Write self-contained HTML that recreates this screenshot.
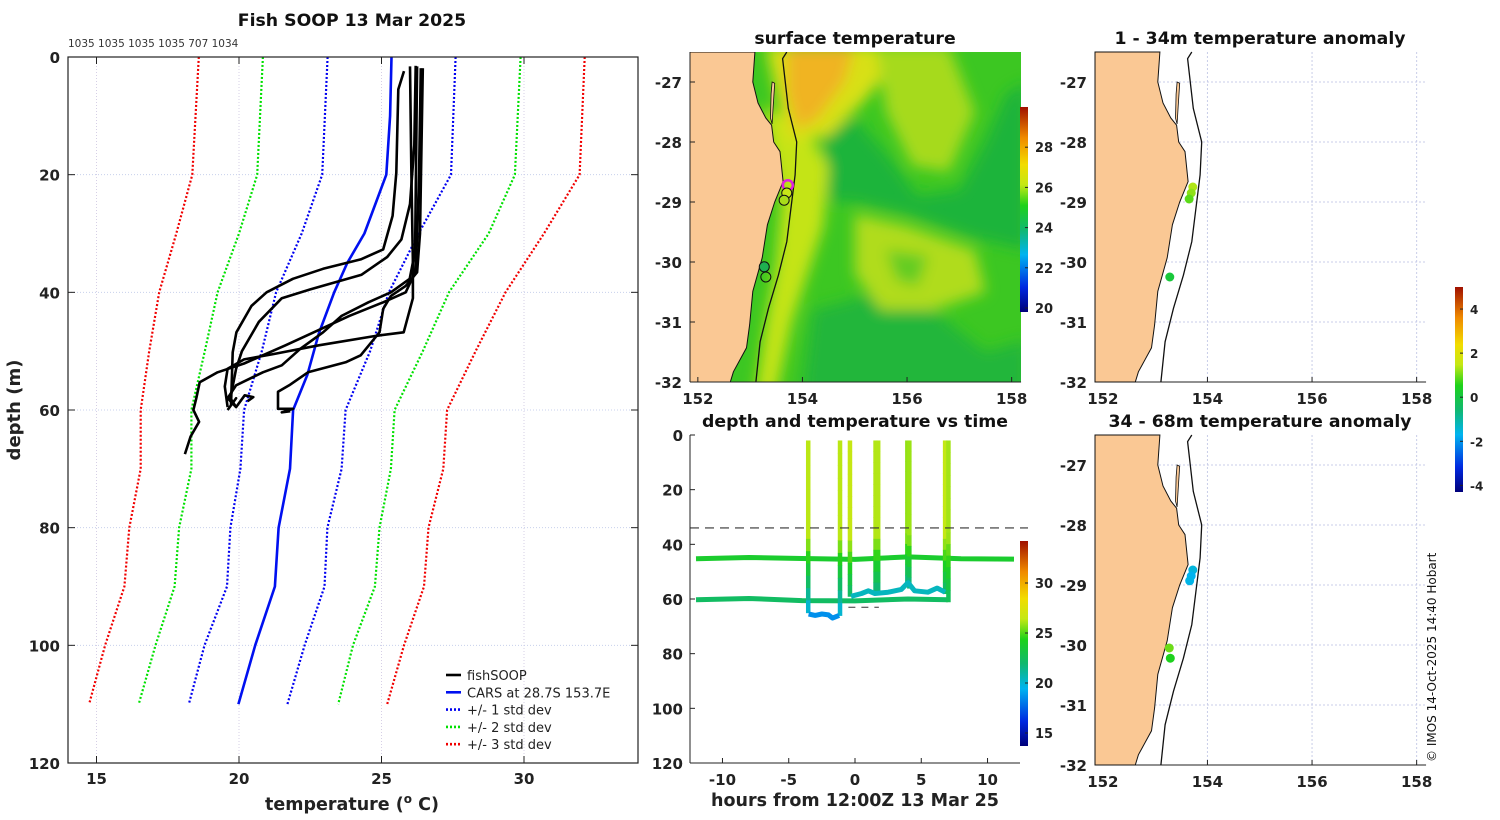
<!DOCTYPE html>
<html><head><meta charset="utf-8"><title>Fish SOOP 13 Mar 2025</title>
<style>
html,body{margin:0;padding:0;background:#fff;width:1500px;height:820px;overflow:hidden}
svg{display:block;font-family:"DejaVu Sans","Liberation Sans",sans-serif}
.tk{font-size:15px;font-weight:bold;fill:#222}
.tt{font-size:17.3px;font-weight:bold;fill:#111}
.at{font-size:17.5px;font-weight:bold;fill:#222}
.sm{font-size:11px;fill:#333}
</style></head><body>
<svg id="fig" width="1500" height="820" viewBox="0 0 1500 820" xmlns="http://www.w3.org/2000/svg">
<defs>
<filter id="blur4" x="-10%" y="-10%" width="120%" height="120%"><feGaussianBlur stdDeviation="7"/></filter>
<clipPath id="clipSst"><rect x="690" y="52" width="331" height="330"/></clipPath>
<linearGradient id="jet" x1="0" y1="1" x2="0" y2="0">
<stop offset="0" stop-color="#00007a"/><stop offset="0.12" stop-color="#0028e0"/><stop offset="0.28" stop-color="#00b4f0"/><stop offset="0.4" stop-color="#10b870"/><stop offset="0.52" stop-color="#1ed21a"/><stop offset="0.62" stop-color="#c4e814"/><stop offset="0.72" stop-color="#f2dc00"/><stop offset="0.85" stop-color="#f08a00"/><stop offset="1" stop-color="#a01000"/>
</linearGradient>
</defs>
</svg>
<script>
// ---------- data ----------
const carsDepth=[0,10,20,30,35,40,47,54,60,70,80,90,100,110];
const carsTemp=[25.35,25.3,25.17,24.4,23.8,23.34,22.8,22.4,21.9,21.79,21.39,21.26,20.57,19.98];
const sdDepth=[0,20,30,40,50,60,70,80,90,100,110];
const sd1Lo=[23.11,22.92,22.2,21.3,20.8,20.18,20.05,19.7,19.58,18.79,18.24];
const sd1Hi=[27.6,27.44,26.3,25.26,24.6,23.74,23.6,23.1,23.0,22.3,21.7];
const sd2Lo=[20.84,20.64,20.0,19.25,18.8,18.33,18.33,17.9,17.74,17.07,16.48];
const sd2Hi=[29.88,29.68,28.76,27.37,26.45,25.46,25.33,24.93,24.77,24.0,23.48];
const sd3Lo=[18.59,18.36,17.8,17.2,16.85,16.55,16.55,16.15,15.98,15.3,14.74];
const sd3Hi=[32.13,31.95,30.7,29.35,28.3,27.3,27.17,26.65,26.49,25.79,25.2];
const fishT1=[26.38,26.32,26.25,26.18,25.85,25.06,23.87,21.63,20.18,19.25,18.62,18.5,18.4,18.6,18.3,18.1];
const fishD1=[1.9,19.7,31,36.6,40,41.7,44,49,52.1,53.6,55.3,58,60,62,64.5,67.5];
const fishT2=[25.79,25.59,25.52,25.39,25.06,24.27,22.95,21.89,20.97,20.44,19.91,19.78,19.72,19.9,19.6];
const fishD2=[2.4,5.5,19.7,27,32.7,34.4,36,37.7,40,42.3,46.8,50.2,59.2,58,60];
const fishT3=[26.2,26.15,26.0,25.7,25.2,24.3,22.5,21.5,20.7,20.1,19.9,19.7,19.9,20.2,20.5,20.3];
const fishD3=[1.5,15,25,31,34,37,39.5,41,45,50,53,58,59.5,57.5,57.8,58.5];
const fishT4=[26.0,26.05,26.1,26.1,25.78,24.8,22.8,21.2,20.18,19.6,19.5,19.6];
const fishD4=[1.6,20,35,41,46.8,47.4,49,50.5,51.4,53,56,59.5];
const fishT5=[26.25,26.18,25.99,25.33,24.54,23.6,22.95,22.15,21.5,20.84,19.9,19.6,19.9];
const fishD5=[1.6,33,37.7,40,41.7,44,46.8,49.6,52.4,53.6,55.8,58,59.5];
const fishT6=[26.45,26.35,26.25,25.85,25.33,25.06,24.93,24.27,23.74,22.42,21.76,21.37,21.37,21.9,21.5,21.8];
const fishD6=[1.9,30,36.6,38.9,40.6,42.8,46.8,50.7,51.9,53.6,55.8,56.9,59.8,59.8,60.4,60.2];
const tempTicks=[15,20,25,30];
const depthTicks=[0,20,40,60,80,100,120];
const countsLabel="1035 1035 1035 1035 707 1034";
// depth-time panel
const hourTicks=[-10,-5,0,5,10];
const castHours=[-3.53,-1.13,-0.38,1.55,1.75,3.95,4.1,6.8,7.05];
const castBottom=[65,66,59,58,58,55,56,58,61];
const castTopTemp=[26.3,26.3,26.5,26.2,26.2,25.8,25.9,26.4,26.0];
const castBotTemp=[19.0,19.0,21.5,21.0,21.0,20.8,20.8,21.5,22.0];
const track45Hours=[-12,-8,-4,0,4,8,12];
const track45Depth=[45.3,44.8,45.2,45.5,44.6,45.3,45.4];
const track60Hours=[-12,-8,-4,0,4,7];
const track60Depth=[60.3,59.8,60.6,60.7,60.0,60.3];
const blueHours=[-3.5,-3.0,-2.5,-2.0,-1.7,-1.2];
const blueDepth=[65.5,66,65.5,65.8,67,66];
const cyanHours=[-0.3,0.5,1.0,1.5,2.5,3.5,4.0,4.5,5.5,6.2,6.8];
const cyanDepth=[59,58,57,58,57.5,56.5,54,57,57.5,56,57.5];
const mixedLayerDepth=34;
const ctTicks=[15,20,25,30];
// maps
const lonTicks=[152,154,156,158];
const latTicks=[-27,-28,-29,-30,-31,-32];
const coastLon=[151.85,153.09,153.05,153.15,153.3,153.41,153.45,153.57,153.63,153.47,153.33,153.23,153.05,152.99,152.93,152.68,152.62,151.85];
const coastLat=[-26.5,-26.5,-27.0,-27.35,-27.6,-27.72,-28.0,-28.16,-28.66,-29.0,-29.38,-29.93,-30.49,-31.05,-31.43,-31.83,-32,-32];
const islandLon=[153.42,153.47,153.44,153.42,153.39,153.4];
const islandLat=[-27.0,-27.02,-27.4,-27.7,-27.6,-27.2];
const shelfLon=[153.70,153.62,153.73,153.89,153.86,153.78,153.70,153.54,153.35,153.19,153.11];
const shelfLat=[-26.5,-26.61,-27.44,-28.0,-28.55,-29.11,-29.66,-30.22,-30.77,-31.33,-32];
const sstTicks=[20,22,24,26,28];
const anomTicks=[-4,-2,0,2,4];
const anomTopLon=[153.72,153.69,153.65,153.28];
const anomTopLat=[-28.75,-28.85,-28.95,-30.25];
const anomTopVal=[1.4,1.2,0.9,0.1];
const anomBotLon=[153.72,153.69,153.66,153.27,153.29];
const anomBotLat=[-28.75,-28.85,-28.93,-30.05,-30.22];
const anomBotVal=[-1.6,-1.8,-1.7,1.0,0.5];

// ---------- helpers ----------
const S="http://www.w3.org/2000/svg";
const svg=document.getElementById('fig');
function mk(tag,attrs,parent){const e=document.createElementNS(S,tag);for(const k in attrs)e.setAttribute(k,attrs[k]);(parent||svg).appendChild(e);return e;}
function txt(x,y,s,cls,anchor,parent){const t=mk('text',{x:x,y:y,'class':cls,'text-anchor':anchor||'middle'},parent);t.textContent=s;return t;}
const stops=[[0,[0,0,122]],[0.12,[0,40,224]],[0.28,[0,180,240]],[0.4,[16,184,112]],[0.52,[30,210,26]],[0.62,[196,232,20]],[0.72,[242,220,0]],[0.85,[240,138,0]],[1,[160,16,0]]];
function cmap(v,lo,hi){let f=Math.max(0,Math.min(1,(v-lo)/(hi-lo)));for(let i=1;i<stops.length;i++){if(f<=stops[i][0]){const a=stops[i-1],b=stops[i];const u=(f-a[0])/(b[0]-a[0]);const c=a[1].map((x,j)=>Math.round(x+(b[1][j]-x)*u));return 'rgb('+c.join(',')+')';}}return 'rgb(160,16,0)';}

// ---------- main profile plot ----------
const X0=68,X1=638,Y0=57,Y1=763;
const xT=t=>X0+(t-14)*(X1-X0)/20;
const yD=d=>Y0+d*(Y1-Y0)/120;
const gMain=mk('g',{});


tempTicks.forEach(t=>{const l=mk('line',{x1:xT(t),x2:xT(t),y1:Y0,y2:Y1,stroke:'#d6cfe6','stroke-width':1,'stroke-dasharray':'1,2'},gMain);});
depthTicks.slice(1,-1).forEach(d=>{const l=mk('line',{x1:X0,x2:X1,y1:yD(d),y2:yD(d),stroke:'#c8d0ec','stroke-width':1,'stroke-dasharray':'1,2'},gMain);});
function poly(ts,ds,color,w,dash,name,parent,xf,yf){const pts=ts.map((t,i)=>xf(t).toFixed(1)+','+yf(ds[i]).toFixed(1)).join(' ');const p=mk('polyline',{points:pts,fill:'none',stroke:color,'stroke-width':w,'stroke-linejoin':'round'},parent);if(dash)p.setAttribute('stroke-dasharray',dash);return p;}
[[sd3Lo,'#f00000','sd3-low-line'],[sd3Hi,'#f00000','sd3-high-line'],[sd2Lo,'#00e000','sd2-low-line'],[sd2Hi,'#00e000','sd2-high-line'],[sd1Lo,'#0000f0','sd1-low-line'],[sd1Hi,'#0000f0','sd1-high-line']].forEach(a=>poly(a[0],sdDepth,a[1],2.2,'2,2',a[2],gMain,xT,yD));
poly(carsTemp,carsDepth,'#0010f0',2.6,null,'cars-line',gMain,xT,yD);
[[fishT1,fishD1],[fishT2,fishD2],[fishT3,fishD3],[fishT4,fishD4],[fishT5,fishD5],[fishT6,fishD6]].forEach((a,i)=>poly(a[0],a[1],'#000',2.6,null,'fishsoop-profile-'+(i+1),gMain,xT,yD));
const frame=mk('rect',{x:X0,y:Y0,width:X1-X0,height:Y1-Y0,fill:'none',stroke:'#222','stroke-width':1.2},gMain);

tempTicks.forEach(t=>{mk('line',{x1:xT(t),x2:xT(t),y1:Y1,y2:Y1-7,stroke:'#222'},gMain);mk('line',{x1:xT(t),x2:xT(t),y1:Y0,y2:Y0+7,stroke:'#222'},gMain);const l=txt(xT(t),784,String(t),'tk','middle',gMain);});
depthTicks.forEach(d=>{mk('line',{x1:X0,x2:X0+7,y1:yD(d),y2:yD(d),stroke:'#222'},gMain);mk('line',{x1:X1,x2:X1-7,y1:yD(d),y2:yD(d),stroke:'#222'},gMain);const l=txt(60,yD(d)+6,String(d),'tk','end',gMain);});
let t=txt(352,26,'Fish SOOP 13 Mar 2025','tt','middle');
t=txt(68,47,countsLabel,'sm','start');t.style.fontSize='10.5px';
t=txt(0,0,'depth (m)','at','middle');t.style.fontSize='18px';t.setAttribute('transform','translate(20,410) rotate(-90)');
t=mk('text',{x:352,y:810,'class':'at','text-anchor':'middle'});t.innerHTML='temperature (<tspan dy="-7" font-size="12">o</tspan><tspan dy="7"> C)</tspan>';
// legend
const legItems=[['fishSOOP','#000',null],['CARS at 28.7S 153.7E','#0010f0',null],['+/- 1 std dev','#0000f0','2,2'],['+/- 2 std dev','#00e000','2,2'],['+/- 3 std dev','#f00000','2,2']];
legItems.forEach((it,i)=>{const g=mk('g',{});const y=675+i*17.3;const l=mk('line',{x1:446,x2:461,y1:y,y2:y,stroke:it[1],'stroke-width':2.6},g);if(it[2])l.setAttribute('stroke-dasharray',it[2]);const tx=txt(467,y+5,it[0],'sm','start',g);tx.style.fontSize='13px';tx.style.fill='#222';});

// ---------- map helpers ----------
function mapAx(x0,y0,lat0){const lonL=151.85,pxDeg=52.3;return {x:lo=>x0+(lo-lonL)*pxDeg,y:la=>y0+(lat0-la)*60};}
function polyPts(lons,lats,m){return lons.map((lo,i)=>m.x(lo).toFixed(1)+','+m.y(lats[i]).toFixed(1)).join(' ');}
function mapFrame(m,g,xlabY,withGrid){
  if(withGrid){lonTicks.forEach(lo=>{const l=mk('line',{x1:m.x(lo),x2:m.x(lo),y1:m.y(-26.5),y2:m.y(-32),stroke:'#c8cde8','stroke-dasharray':'2,2'},g);});
  latTicks.forEach(la=>{const l=mk('line',{x1:m.x(151.85),x2:m.x(158.18),y1:m.y(la),y2:m.y(la),stroke:'#c8cde8','stroke-dasharray':'2,2'},g);});}
  const xl=m.x(151.85),yb=m.y(-32);
  mk('line',{x1:xl,x2:m.x(158.18),y1:yb,y2:yb,stroke:'#222'},g);mk('line',{x1:xl,x2:xl,y1:m.y(-26.5),y2:yb,stroke:'#222'},g);
  lonTicks.forEach(lo=>{mk('line',{x1:m.x(lo),x2:m.x(lo),y1:yb,y2:yb-5,stroke:'#222'},g);const l=txt(m.x(lo),xlabY,String(lo),'tk','middle',g);});
  latTicks.forEach(la=>{mk('line',{x1:xl,x2:xl+5,y1:m.y(la),y2:m.y(la),stroke:'#222'},g);const l=txt(xl-8,m.y(la)+6,String(la),'tk','end',g);});
}
function land(m,g){const p=mk('polygon',{points:polyPts(coastLon,coastLat,m),fill:'#fac894',stroke:'#111','stroke-width':1},g);
  const i=mk('polygon',{points:polyPts(islandLon,islandLat,m),fill:'#fac894',stroke:'#111','stroke-width':0.8},g);}
function shelf(m,g){const s=mk('polyline',{points:polyPts(shelfLon,shelfLat,m),fill:'none',stroke:'#111','stroke-width':1.3},g);}
function colorbar(x,y,w,h,lo,hi,ticks,name,fs){const g=mk('g',{});mk('rect',{x:x,y:y,width:w,height:h,fill:'url(#jet)'},g);ticks.forEach(v=>{const yy=y+h-(v-lo)/(hi-lo)*h;mk('line',{x1:x+w-3,x2:x+w,y1:yy,y2:yy,stroke:'#222'},g);const l=txt(x+w+7,yy+5,String(v),'tk','start',g);l.style.fontSize=fs+'px';});return g;}

// ---------- SST map ----------
const mS=mapAx(690,52,-26.5);
const gS=mk('g',{'clip-path':'url(#clipSst)'});
mk('rect',{x:690,y:52,width:331,height:330,fill:'#3cc722'},gS);
const blobs=[
 ['#1fb43a',[154.4,155.0,155.6,156.2,157.0,157.5,157.9,158.3,158.3,157.3,156.0,155.0,154.5],[-27.9,-27.6,-28.2,-28.9,-28.8,-28.0,-27.2,-27.0,-29.8,-29.6,-29.2,-29.0,-29.0]],
 ['#22b63a',[154.2,155.5,156.5,157.5,158.3,158.3,154.0],[-30.8,-30.5,-30.8,-31.5,-31.3,-32.2,-32.2]],
 ['#c4e416',[153.2,154.1,154.5,154.4,154.1,153.8,153.5,153.1,153.3,153.5,153.6],[-27.4,-27.8,-28.4,-29.4,-30.2,-31.0,-32.2,-32.2,-31.0,-30.0,-29.0]],
 ['#d8e012',[153.3,156.0,155.2,154.5,153.7],[-26.4,-26.4,-27.3,-27.9,-28.0]],
 ['#f0b424',[153.7,155.0,154.8,154.3,153.9,153.7],[-26.4,-26.4,-27.0,-27.6,-27.8,-27.2]],
 ['#a6da1c',[155.4,156.8,157.3,156.8,156.1,155.6],[-26.4,-26.4,-27.5,-28.5,-28.4,-27.5]],
 ['#b0dc1a',[155.0,156.0,157.3,157.5,156.5,155.5,155.0],[-29.2,-29.4,-29.8,-30.5,-30.8,-30.8,-30.2]],
 ['#62cc22',[155.6,156.4,156.2,155.8],[-29.8,-29.9,-30.4,-30.3]]
];
const gBlob=mk('g',{filter:'url(#blur4)'},gS);
blobs.forEach((b,i)=>{const p=mk('polygon',{points:polyPts(b[1],b[2],mS),fill:b[0]},gBlob);});
land(mS,gS);shelf(mS,gS);
[[153.72,-28.72,'none','#e020e0',2.5],[153.7,-28.85,'#c8e618','#111',1],[153.65,-28.97,'#a8dc1a','#111',1],[153.27,-30.08,'#1fb050','#111',1],[153.3,-30.25,'none','#111',1]].forEach(c=>{const e=mk('circle',{cx:mS.x(c[0]),cy:mS.y(c[1]),r:5,fill:c[2],stroke:c[3],'stroke-width':c[4]},gS);});
const gSf=mk('g',{});mapFrame(mS,gSf,404,false);
t=txt(855,44,'surface temperature','tt','middle');
colorbar(1020,107,8,205,19.8,30.0,sstTicks,'sst-colorbar',13);

// ---------- anomaly maps ----------
function anomMap(y0,title,titleY,lons,lats,vals,name,xlabY){
  const m=mapAx(1095,y0,-26.5);const g=mk('g',{});
  mapFrame(m,g,xlabY,true);land(m,g);shelf(m,g);
  lons.forEach((lo,i)=>{const c=mk('circle',{cx:m.x(lo),cy:m.y(lats[i]),r:4.5,fill:cmap(vals[i],-4.5,5.2)},g);});
  const tt=txt(1260,titleY,title,'tt','middle');
}
anomMap(52,'1 - 34m temperature anomaly',44,anomTopLon,anomTopLat,anomTopVal,'anomaly-map-shallow',404);
anomMap(435,'34 - 68m temperature anomaly',427,anomBotLon,anomBotLat,anomBotVal,'anomaly-map-deep',787);
colorbar(1455,287,8,205,-4.3,5.0,anomTicks,'anomaly-colorbar',12);

// ---------- depth vs time ----------
const HX0=690,HX1=1020,HY0=435,HY1=763;
const xH=h=>HX0+(h+12.45)*(HX1-HX0)/24.9;
const yH=d=>HY0+d*(HY1-HY0)/120;
const gH=mk('g',{});
const CLO=13.7,CHI=34.2;
poly(track45Hours,track45Depth,cmap(23.8,CLO,CHI),5,null,'track-45m',gH,xH,yH);
poly(track60Hours,track60Depth,cmap(22.3,CLO,CHI),5,null,'track-60m',gH,xH,yH);
castHours.forEach((h,i)=>{const g=mk('g',{},gH);
  const n=14;for(let k=0;k<n;k++){const d1=2+(castBottom[i]-2)*k/n,d2=2+(castBottom[i]-2)*(k+1)/n;const f=Math.max(0,(d1-35)/(castBottom[i]-35));const tv=castTopTemp[i]+(castBotTemp[i]-castTopTemp[i])*Math.min(1,f);
  mk('line',{x1:xH(h),x2:xH(h),y1:yH(d1),y2:yH(d2)+0.5,stroke:cmap(tv,CLO,CHI),'stroke-width':4.5},g);}});
poly(blueHours,blueDepth,cmap(18.6,CLO,CHI),5,null,'cold-bottom-track',gH,xH,yH);
poly(cyanHours,cyanDepth,cmap(20.4,CLO,CHI),5,null,'cool-bottom-track',gH,xH,yH);
const ml=mk('line',{x1:HX0,x2:HX1+8,y1:yH(mixedLayerDepth),y2:yH(mixedLayerDepth),stroke:'#333','stroke-dasharray':'9,6','stroke-width':1.2},gH);
const md=mk('line',{x1:xH(-0.5),x2:xH(1.8),y1:yH(63),y2:yH(63),stroke:'#333','stroke-dasharray':'7,6'},gH);
mk('line',{x1:HX0,x2:HX1,y1:HY1,y2:HY1,stroke:'#222'},gH);mk('line',{x1:HX0,x2:HX0,y1:HY0,y2:HY1,stroke:'#222'},gH);
hourTicks.forEach(h=>{mk('line',{x1:xH(h),x2:xH(h),y1:HY1,y2:HY1-5,stroke:'#222'},gH);const l=txt(xH(h),785,String(h),'tk','middle',gH);});
depthTicks.forEach(d=>{mk('line',{x1:HX0,x2:HX0+5,y1:yH(d),y2:yH(d),stroke:'#222'},gH);const l=txt(683,yH(d)+6,String(d),'tk','end',gH);});
t=txt(855,427,'depth and temperature vs time','tt','middle');
t=txt(855,806,'hours from 12:00Z 13 Mar 25','at','middle');
colorbar(1020,541,8,205,CLO,CHI,ctTicks,'depth-time-colorbar',13);

// copyright
t=txt(0,0,'© IMOS 14-Oct-2025 14:40 Hobart','sm','start');t.style.fontSize='12px';t.style.fill='#111';t.setAttribute('transform','translate(1436,762) rotate(-90)');
</script>
</body></html>
